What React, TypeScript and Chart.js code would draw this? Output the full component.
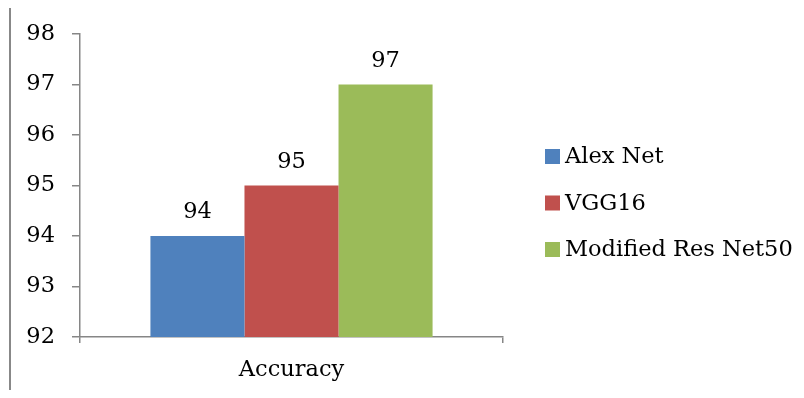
import React, { useEffect, useRef } from "react";
import { Chart, registerables } from "chart.js";

Chart.register(...registerables);

const categories = ["Accuracy"];
const seriesNames = ["Alex Net", "VGG16", "Modified Res Net50"];
const alexNet = [94];
const vgg16 = [95];
const resNet50 = [97];
const yTicks = [92, 93, 94, 95, 96, 97, 98];
const colors = ["#4F81BD", "#C0504D", "#9BBB59"];

const FONT = "'DejaVu Serif', serif";
const FONT_SIZE = 22.5;
const AXIS_GRAY = "#868686";

const framePlugin = {
  id: "frame",
  afterDraw(chart: any) {
    const ctx = chart.ctx;
    ctx.save();
    ctx.fillStyle = "#888888";
    ctx.fillRect(9, 5, 2, chart.height - 5);
    ctx.fillRect(9, 5, 781, 2);
    ctx.restore();
  },
};

const dataLabelPlugin = {
  id: "dataLabels",
  afterDatasetsDraw(chart: any) {
    const ctx = chart.ctx;
    ctx.save();
    ctx.font = `${FONT_SIZE}px ${FONT}`;
    ctx.fillStyle = "#000";
    ctx.textAlign = "center";
    ctx.textBaseline = "alphabetic";
    chart.data.datasets.forEach((ds: any, i: number) => {
      const meta = chart.getDatasetMeta(i);
      meta.data.forEach((el: any, j: number) => {
        ctx.fillText(String(ds.data[j]), el.x, el.y - 18);
      });
    });
    ctx.restore();
  },
};

const legendPlugin = {
  id: "customLegend",
  afterDraw(chart: any) {
    const ctx = chart.ctx;
    const area = chart.chartArea;
    const boxX = area.right + 42;
    const spacing = 46.5;
    const startY = 156.5;
    ctx.save();
    ctx.font = `${FONT_SIZE}px ${FONT}`;
    ctx.textAlign = "left";
    ctx.textBaseline = "middle";
    chart.data.datasets.forEach((ds: any, i: number) => {
      const cy = startY + i * spacing;
      ctx.fillStyle = ds.backgroundColor;
      ctx.fillRect(boxX, cy - 7.5, 15, 15);
      ctx.fillStyle = "#000";
      ctx.fillText(ds.label, boxX + 20, cy + 1);
    });
    ctx.restore();
  },
};

export default function App() {
  const ref = useRef<HTMLCanvasElement>(null);
  useEffect(() => {
    if (!ref.current) return;
    const chart = new Chart(ref.current, {
      type: "bar",
      data: {
        labels: categories,
        datasets: [
          { label: seriesNames[0], data: alexNet, backgroundColor: colors[0] },
          { label: seriesNames[1], data: vgg16, backgroundColor: colors[1] },
          { label: seriesNames[2], data: resNet50, backgroundColor: colors[2] },
        ],
      },
      options: {
        animation: false,
        responsive: false,
        maintainAspectRatio: false,
        layout: { padding: { left: 0, top: 34, right: 301, bottom: 0 } },
        datasets: { bar: { categoryPercentage: 0.667, barPercentage: 1 } },
        plugins: { legend: { display: false }, tooltip: { enabled: false } },
        scales: {
          x: {
            grid: {
              display: true,
              drawOnChartArea: false,
              drawTicks: true,
              tickLength: 6,
              color: AXIS_GRAY,
              lineWidth: 1.5,
              offset: true,
            },
            border: { display: true, color: AXIS_GRAY, width: 1.5 },
            ticks: {
              color: "#000",
              font: { family: FONT, size: FONT_SIZE },
              padding: 14,
            },
            afterFit(scale: any) {
              scale.height = 61;
            },
          },
          y: {
            min: 92,
            max: 98,
            afterBuildTicks(scale: any) {
              scale.ticks = yTicks.map((v) => ({ value: v }));
            },
            grid: {
              display: true,
              drawOnChartArea: false,
              drawTicks: true,
              tickLength: 8,
              color: AXIS_GRAY,
              lineWidth: 1.5,
            },
            border: { display: true, color: AXIS_GRAY, width: 1.5 },
            ticks: {
              color: "#000",
              font: { family: FONT, size: FONT_SIZE },
              padding: 17,
            },
            afterFit(scale: any) {
              scale.width = 80;
            },
          },
        },
      },
      plugins: [framePlugin, dataLabelPlugin, legendPlugin],
    });
    return () => chart.destroy();
  }, []);
  return (
    <div style={{ margin: -8, width: 804, height: 398, background: "#fff" }}>
      <canvas ref={ref} width={804} height={398} style={{ display: "block" }} />
    </div>
  );
}
